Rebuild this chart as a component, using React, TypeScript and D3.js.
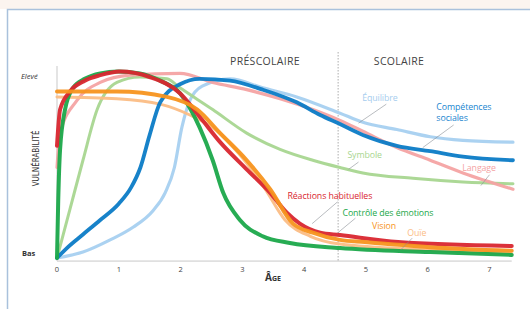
import React from 'react';
import * as d3 from 'd3';

// Vulnérabilité selon l'âge : points [âge, niveau 0..1]
type Pt = [number, number];

const equilibre: Pt[] = [[0, 0], [0.42, 0.033], [0.86, 0.1], [1.23, 0.17], [1.55, 0.26], [1.75, 0.36], [1.9, 0.5], [2.02, 0.72], [2.15, 0.87], [2.35, 0.95], [2.8, 0.99], [3.33, 0.94], [3.88, 0.89], [4.58, 0.8], [4.95, 0.75], [5.5, 0.71], [6.04, 0.67], [6.57, 0.65], [7.38, 0.64]];
const symbole: Pt[] = [[0, 0], [0.21, 0.27], [0.42, 0.54], [0.65, 0.82], [0.97, 0.97], [1.34, 1.0], [1.78, 0.99], [1.99, 0.94], [2.52, 0.82], [3.07, 0.69], [3.61, 0.6], [4.14, 0.54], [4.58, 0.5], [4.95, 0.47], [5.76, 0.44], [6.57, 0.42], [7.38, 0.41]];
const langage: Pt[] = [[0, 0.5], [0.05, 0.69], [0.32, 0.87], [0.7, 0.97], [1.18, 1.01], [1.99, 1.02], [2.52, 0.97], [3.07, 0.93], [3.61, 0.88], [4.14, 0.82], [4.58, 0.76], [4.95, 0.7], [5.5, 0.61], [6.04, 0.54], [6.57, 0.47], [7.38, 0.38]];
const ouie: Pt[] = [[0, 0.89], [0.97, 0.88], [1.67, 0.85], [2.15, 0.79], [2.56, 0.71], [2.96, 0.57], [3.37, 0.38], [3.69, 0.21], [4.1, 0.12], [4.58, 0.077], [6.04, 0.044], [7.36, 0.022]];
const competences: Pt[] = [[0, 0], [0.16, 0.055], [0.42, 0.13], [0.7, 0.21], [1.0, 0.3], [1.2, 0.39], [1.35, 0.5], [1.5, 0.68], [1.67, 0.86], [1.99, 0.96], [2.31, 0.99], [2.8, 0.98], [3.33, 0.93], [3.88, 0.86], [4.26, 0.79], [4.58, 0.74], [4.95, 0.68], [5.5, 0.62], [6.04, 0.59], [6.57, 0.56], [7.38, 0.54]];
const controle: Pt[] = [[0, 0], [0.02, 0.32], [0.05, 0.6], [0.13, 0.82], [0.26, 0.94], [0.45, 0.99], [0.7, 1.02], [0.99, 1.03], [1.34, 1.02], [1.67, 0.98], [1.99, 0.91], [2.31, 0.72], [2.52, 0.54], [2.69, 0.36], [2.96, 0.21], [3.33, 0.12], [3.77, 0.083], [4.58, 0.055], [6.04, 0.033], [7.36, 0.017]];
const reactions: Pt[] = [[0, 0.62], [0.05, 0.82], [0.21, 0.92], [0.45, 0.98], [0.7, 1.01], [1.02, 1.03], [1.5, 1.0], [1.99, 0.91], [2.31, 0.78], [2.64, 0.64], [3.07, 0.49], [3.45, 0.36], [3.72, 0.25], [3.93, 0.19], [4.26, 0.14], [4.58, 0.127], [5.52, 0.088], [7.36, 0.066]];
const vision: Pt[] = [[0, 0.92], [0.97, 0.92], [1.78, 0.89], [2.27, 0.82], [2.64, 0.69], [3.07, 0.54], [3.45, 0.38], [3.82, 0.19], [4.14, 0.14], [4.58, 0.1], [4.98, 0.088], [6.04, 0.06], [7.36, 0.04]];

// ordre de dessin (du fond vers l'avant)
const series = [
  { name: 'Équilibre', data: equilibre, color: '#a6d0f0', width: 3.2 },
  { name: 'Symbole', data: symbole, color: '#a8d690', width: 3 },
  { name: 'Langage', data: langage, color: '#f4a3a3', width: 3.2 },
  { name: 'Ouïe', data: ouie, color: '#fbbd85', width: 3 },
  { name: 'Compétences sociales', data: competences, color: '#0b7bc6', width: 3.8 },
  { name: 'Contrôle des émotions', data: controle, color: '#1ba84a', width: 4 },
  { name: 'Réactions habituelles', data: reactions, color: '#d9262f', width: 4 },
  { name: 'Vision', data: vision, color: '#f7941d', width: 4 },
];

const ageTicks = [0, 1, 2, 3, 4, 5, 6, 7];
const schoolStart = 4.55;

// étiquettes : texte, couleur, position [âge, niveau], trait de rappel
const labels = [
  { lines: ['Équilibre'], color: '#a6cdee', at: [4.94, 0.87], leader: [[5.33, 0.85], [4.88, 0.745]] },
  { lines: ['Compétences', 'sociales'], color: '#1a86cf', at: [6.14, 0.82], leader: [[6.42, 0.735], [5.92, 0.61]] },
  { lines: ['Symbole'], color: '#a8d690', at: [4.7, 0.55], leader: [[4.88, 0.53], [4.72, 0.49]] },
  { lines: ['Langage'], color: '#f4a3a3', at: [6.56, 0.48], leader: [[7.0, 0.46], [6.86, 0.4]] },
  { lines: ['Réactions habituelles'], color: '#d9262f', at: [3.73, 0.326], leader: [[4.54, 0.31], [4.13, 0.19]] },
  { lines: ['Contrôle des émotions'], color: '#1ba84a', at: [4.62, 0.232], leader: [[4.83, 0.22], [4.54, 0.138]] },
  { lines: ['Vision'], color: '#f7941d', at: [5.1, 0.16], leader: null },
  { lines: ['Ouïe'], color: '#fbbd85', at: [5.67, 0.12], leader: [[5.75, 0.11], [5.56, 0.044]] },
];

const W = 530;
const H = 309;

export default function App() {
  const x = d3.scaleLinear().domain([0, 7]).range([57, 489.5]);
  const y = d3.scaleLinear().domain([0, 1]).range([258, 77]);
  const line = d3.line<Pt>().x(d => x(d[0])).y(d => y(d[1])).curve(d3.curveMonotoneX);
  const axisY = y(-0.017);
  const font = '"Open Sans", sans-serif';

  return (
    <svg width={W} height={H} style={{ position: 'absolute', left: 0, top: 0, background: '#fff' }} fontFamily={font}>
      <rect x={0} y={0} width={W} height={9} fill="#fbf4ef" />
      <path d={`M7.5,${H} V9.5 H${W}`} fill="none" stroke="#a9c1dc" strokeWidth={1.5} />

      {/* axes */}
      <line x1={x(0)} x2={x(7.36)} y1={axisY} y2={axisY} stroke="#c9c9c9" strokeWidth={1} />
      <line x1={x(0)} x2={x(0)} y1={66} y2={axisY} stroke="#c9c9c9" strokeWidth={1} />
      <line x1={x(schoolStart)} x2={x(schoolStart)} y1={52} y2={axisY} stroke="#999" strokeWidth={0.8} strokeDasharray="1.5,1.5" />

      {ageTicks.map(t => (
        <text key={t} x={x(t)} y={axisY + 11} fontSize={7.5} fill="#444" textAnchor="middle">{t}</text>
      ))}
      <text x={265} y={281} fontSize={10} fill="#333" fontWeight="bold" style={{ fontVariant: 'small-caps' }}>Âge</text>
      <text x={21} y={79} fontSize={7.5} fill="#333" fontStyle="italic">Elevé</text>
      <text x={22} y={256} fontSize={7.5} fill="#333" fontWeight="bold">Bas</text>
      <text transform={`translate(39,${y(0.55)}) rotate(-90)`} fontSize={8} fill="#333" textAnchor="middle" fontFamily='"Liberation Sans Narrow", "DejaVu Sans Condensed", sans-serif'>VULNÉRABILITÉ</text>

      <text x={265} y={65} fontSize={10.5} fill="#444" textAnchor="middle" letterSpacing={0.3}>PRÉSCOLAIRE</text>
      <text x={399} y={65} fontSize={10.5} fill="#444" textAnchor="middle" letterSpacing={0.3}>SCOLAIRE</text>

      {series.map(s => (
        <path key={s.name} d={line(s.data) ?? ''} fill="none" stroke={s.color} strokeWidth={s.width} strokeLinecap="round" strokeLinejoin="round" strokeOpacity={0.95} />
      ))}

      {labels.map(l => (
        <g key={l.lines.join(' ')}>
          {l.leader && (
            <line x1={x(l.leader[0][0])} y1={y(l.leader[0][1])} x2={x(l.leader[1][0])} y2={y(l.leader[1][1])} stroke="#8a8f96" strokeWidth={0.6} />
          )}
          {l.lines.map((t, i) => (
            <text key={t} x={x(l.at[0])} y={y(l.at[1]) + i * 11} fontSize={8.8} fill={l.color} letterSpacing={-0.1}>{t}</text>
          ))}
        </g>
      ))}
    </svg>
  );
}
